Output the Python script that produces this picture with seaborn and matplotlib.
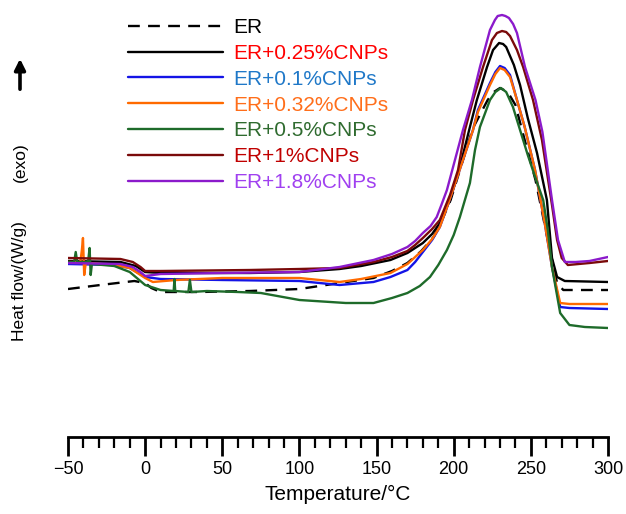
import matplotlib
matplotlib.use("Agg")
import matplotlib.pyplot as plt
from matplotlib.ticker import MultipleLocator
import seaborn as sns
import pandas as pd

# ---------------- data ----------------
labels = ["ER", "ER+0.25%CNPs", "ER+0.1%CNPs", "ER+0.32%CNPs",
          "ER+0.5%CNPs", "ER+1%CNPs", "ER+1.8%CNPs"]

t_er = [-50, -29, -7, 0, 4, 10, 35, 68, 100, 126, 148, 160, 170, 179, 187, 193,
        198, 206, 212.5, 222, 226, 230, 235, 240, 246, 253, 259, 264, 267, 271,
        300]
hf_er = [1.48, 1.52, 1.56, 1.54, 1.49, 1.45, 1.45, 1.46, 1.48, 1.54, 1.59,
         1.66, 1.74, 1.86, 2.00, 2.19, 2.37, 2.77, 3.09, 3.37, 3.45, 3.49,
         3.45, 3.32, 2.97, 2.57, 2.12, 1.75, 1.54, 1.47, 1.47]

t_025 = [-50, -16, -6, 0, 10, 68, 100, 126, 140, 159, 170, 180, 186, 191,
         197.6, 204, 210.5, 215, 221.6, 225.5, 229.4, 232, 234, 239, 243, 248,
         254, 260.4, 263.7, 267, 272, 300]
hf_025 = [1.76, 1.75, 1.71, 1.65, 1.64, 1.64, 1.65, 1.68, 1.71, 1.77, 1.84,
          1.94, 2.03, 2.14, 2.37, 2.70, 3.10, 3.37, 3.70, 3.87, 3.94, 3.93,
          3.90, 3.72, 3.52, 3.19, 2.84, 2.37, 1.79, 1.60, 1.56, 1.55]

t_01 = [-50, -20, -10, 0, 10, 50, 100, 126, 148, 159, 170, 175, 180, 186, 191,
        195, 199.5, 206, 212.5, 215.7, 223.5, 227, 230, 233, 236.5, 241, 246,
        252.7, 259.2, 263.7, 269, 275, 300]
hf_01 = [1.73, 1.72, 1.69, 1.60, 1.58, 1.57, 1.56, 1.52, 1.55, 1.60, 1.67,
         1.75, 1.85, 1.97, 2.10, 2.27, 2.47, 2.77, 3.07, 3.27, 3.54, 3.65,
         3.71, 3.69, 3.62, 3.37, 3.10, 2.67, 2.12, 1.70, 1.30, 1.29, 1.28]

t_032 = [-50, -42, -41, -40.3, -39.5, -38.5, -20, -10, 0, 5, 20, 50, 100, 126,
         140, 159, 170, 175, 180, 186, 191, 195, 199.5, 206, 212.5, 215.7,
         223.5, 227, 230, 233, 236.5, 241, 246, 252.7, 259.2, 263.7, 269, 275,
         300]
hf_032 = [1.75, 1.75, 1.87, 1.99, 1.62, 1.74, 1.72, 1.69, 1.59, 1.55, 1.57,
          1.59, 1.59, 1.55, 1.58, 1.64, 1.73, 1.80, 1.87, 1.98, 2.10, 2.27,
          2.47, 2.77, 3.07, 3.25, 3.52, 3.63, 3.69, 3.67, 3.60, 3.37, 3.10,
          2.67, 2.12, 1.70, 1.34, 1.33, 1.33]

t_05 = [-50, -46, -45, -44, -37, -36, -35.3, -34.5, -20, -10, 0, 10, 18.5, 19,
        19.5, 28, 29, 30, 40, 60, 75, 100, 130, 148, 160, 170, 178, 184.6, 190,
        195.6, 200, 204, 210.5, 213.8, 217, 223.5, 227, 230.6, 234, 238.4, 243,
        248, 253, 258, 261, 263.7, 269, 275, 285, 300]
hf_05 = [1.75, 1.75, 1.85, 1.75, 1.75, 1.89, 1.62, 1.73, 1.71, 1.65, 1.52,
         1.47, 1.46, 1.58, 1.46, 1.45, 1.57, 1.45, 1.46, 1.45, 1.44, 1.37,
         1.34, 1.34, 1.39, 1.44, 1.51, 1.60, 1.72, 1.87, 2.02, 2.20, 2.54,
         2.87, 3.10, 3.37, 3.45, 3.49, 3.45, 3.30, 3.07, 2.82, 2.59, 2.37,
         2.07, 1.70, 1.24, 1.12, 1.10, 1.09]

t_1 = [-50, -16, -8, -3, 0, 10, 68, 100, 126, 148, 160, 170, 175, 180, 186, 191,
       197.6, 202.8, 207.3, 212.5, 219, 224.8, 228, 231.3, 234, 236.5, 241, 245,
       251.4, 257.2, 263.7, 267, 270, 274, 288, 300]
hf_1 = [1.79, 1.78, 1.75, 1.70, 1.66, 1.66, 1.67, 1.68, 1.69, 1.75, 1.80,
        1.86, 1.92, 1.99, 2.08, 2.17, 2.42, 2.67, 3.07, 3.37, 3.70, 3.97, 4.04,
        4.06, 4.05, 4.01, 3.87, 3.70, 3.37, 2.97, 2.32, 1.97, 1.79, 1.72, 1.74,
        1.76]

t_18 = [-50, -16, -8, -3, 0, 10, 50, 100, 126, 148, 160, 170, 175, 180, 185,
        189, 192, 195.6, 200.8, 206, 211.8, 217, 223.5, 226.7, 228.5, 231.3,
        233.5, 235.8, 238.5, 241, 246.2, 253, 257.5, 263.7, 267.6, 272, 279, 288,
        300]
hf_18 = [1.74, 1.73, 1.70, 1.65, 1.61, 1.63, 1.64, 1.65, 1.70, 1.77, 1.83,
         1.90, 1.96, 2.04, 2.11, 2.20, 2.32, 2.47, 2.77, 3.07, 3.37, 3.70,
         4.07, 4.17, 4.21, 4.22, 4.21, 4.19, 4.13, 4.04, 3.70, 3.37, 3.05,
         2.37, 1.97, 1.75, 1.75, 1.76, 1.80]

# ---------------- style ----------------
line_colors = ["black", "black", "#1414E6", "#FF6A00", "#1E6B2A", "#7A0A0A", "#8B1ACB"]
text_colors = ["black", "#FF0000", "#1F78C8", "#FF6E1A", "#2F6B2F", "#C00000", "#A040F0"]
styles = [(0, (5, 3.5)), "-", "-", "-", "-", "-", "-"]

series = [(t_er, hf_er), (t_025, hf_025), (t_01, hf_01), (t_032, hf_032),
          (t_05, hf_05), (t_1, hf_1), (t_18, hf_18)]

sns.set_theme(style="white")
plt.rcParams["font.family"] = ["Liberation Sans", "DejaVu Sans"]

fig = plt.figure(figsize=(6.26, 5.14), dpi=100)
ax = fig.add_axes([68 / 626, 1 - 437 / 514, 540 / 626, 437 / 514])

for (t, hf), lab, col, ls in zip(series, labels, line_colors, styles):
    df = pd.DataFrame({"T": t, "hf": hf})
    sns.lineplot(data=df, x="T", y="hf", ax=ax, color=col, lw=1.7,
                 linestyle=ls, label=lab, sort=False, estimator=None)

ax.set_xlim(-50, 300)
ax.set_ylim(0, 4.37)
ax.xaxis.set_major_locator(MultipleLocator(50))
ax.xaxis.set_minor_locator(MultipleLocator(10))
ax.set_yticks([])
for s in ["left", "right", "top"]:
    ax.spines[s].set_visible(False)
ax.spines["bottom"].set_linewidth(2.0)
ax.spines["bottom"].set_color("black")
ax.tick_params(axis="x", which="major", direction="out", length=14, width=2.0,
               labelsize=13, pad=3, colors="black", bottom=True)
ax.tick_params(axis="x", which="minor", direction="out", length=8, width=1.6,
               colors="black", bottom=True)
ax.set_xlabel("Temperature/°C", fontsize=15, labelpad=5, color="black")
ax.set_ylabel("")
ax.patch.set_alpha(0)

leg = ax.legend(loc="upper left", bbox_to_anchor=((128 - 68) / 540, (437 - 18) / 437),
                frameon=False, fontsize=15, handlelength=4.57, handletextpad=0.48,
                labelspacing=0.33, borderpad=0, borderaxespad=0)
for txt, c in zip(leg.get_texts(), text_colors):
    txt.set_color(c)

# y label with exo arrow
fig.text(20 / 626, 1 - 281 / 514, "Heat flow/(W/g)", rotation=90, fontsize=12.5,
         ha="center", va="center", color="black")
fig.text(20 / 626, 1 - 162 / 514, "(exo)", rotation=90, fontsize=12.5,
         ha="center", va="center", color="black")
fig.add_artist(matplotlib.patches.FancyArrowPatch(
    (20 / 626, 1 - 92 / 514), (20 / 626, 1 - 56 / 514),
    transform=fig.transFigure, arrowstyle="-|>", mutation_scale=16,
    lw=2.6, color="black"))

fig.savefig("out.png", dpi=100)
